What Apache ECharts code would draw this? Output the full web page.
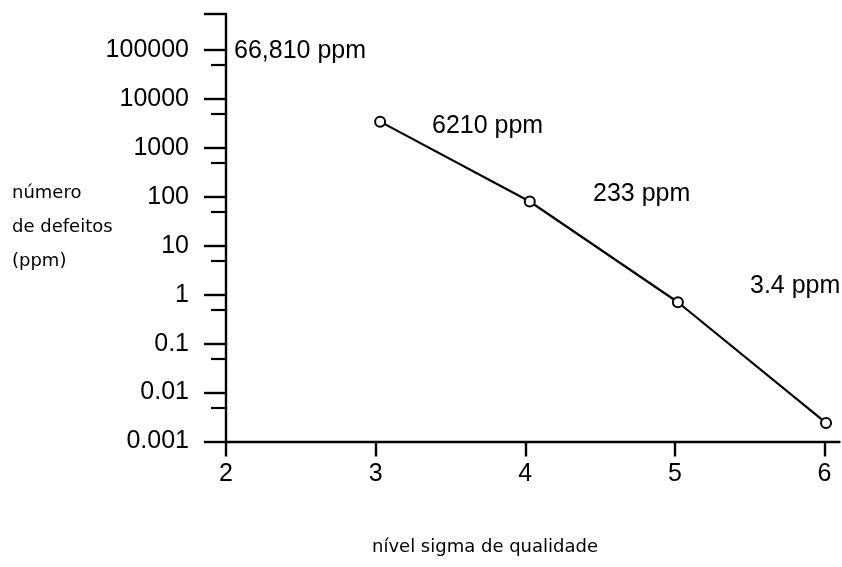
<!DOCTYPE html>
<html>
<head>
<meta charset="utf-8">
<script src="https://cdn.jsdelivr.net/npm/echarts@6/dist/echarts.min.js"></script>
<style>
html,body{margin:0;padding:0;background:#fff;}
#c{width:842px;height:567px;}
</style>
</head>
<body>
<div id="c"></div>
<script>
// ---- data ----
const sigmaLevels = [3.03, 4.03, 5.02, 6.01];
const defectsPpm = [3430, 80, 0.70, 0.0024];
const xTickValues = [2, 3, 4, 5, 6];
const xTickLabels = ['2', '3', '4', '5', '6'];
const yTickValues = [0.001, 0.01, 0.1, 1, 10, 100, 1000, 10000, 100000];
const yTickLabels = ['0.001', '0.01', '0.1', '1', '10', '100', '1000', '10000', '100000'];
const yMinorTickValues = [0.005, 0.05, 0.5, 5, 50, 500, 5000, 50000];
const annotationTexts = ['66,810 ppm', '6210 ppm', '233 ppm', '3.4 ppm'];
const yAxisTitle = 'número\nde defeitos\n(ppm)';
const xAxisTitle = 'nível sigma de qualidade';

const yMin = 0.001, yMax = 543000;
const xMin = 2, xMax = 6.1;

const tickFont = 'Liberation Sans';
const ink = '#000';

function yLabel(v) {
  const i = yTickValues.findIndex(t => Math.abs(Math.log10(t) - Math.log10(v)) < 1e-6);
  return i >= 0 ? yTickLabels[i] : '';
}
function xLabel(v) {
  const i = xTickValues.findIndex(t => Math.abs(t - v) < 1e-6);
  return i >= 0 ? xTickLabels[i] : '';
}

const chart = echarts.init(document.getElementById('c'), null, {renderer: 'canvas'});
const option = {
  animation: false,
  backgroundColor: '#fff',
  grid: {left: 226, right: 2.5, top: 14, bottom: 125.5},
  xAxis: {
    type: 'value', min: xMin, max: xMax, interval: 1,
    axisLine: {show: true, lineStyle: {color: ink, width: 2.4}},
    axisTick: {show: true, length: 15, lineStyle: {color: ink, width: 2.4}, customValues: xTickValues},
    axisLabel: {show: true, customValues: xTickValues, formatter: xLabel, margin: 20,
      fontFamily: tickFont, fontSize: 25, color: ink},
    splitLine: {show: false}
  },
  yAxis: [{
    type: 'log', min: yMin, max: yMax, logBase: 10,
    axisLine: {show: true, lineStyle: {color: ink, width: 2.4}},
    axisTick: {show: true, length: 22, lineStyle: {color: ink, width: 2.4},
      customValues: yTickValues.concat([yMax])},
    axisLabel: {show: true, customValues: yTickValues, formatter: yLabel, margin: 37,
      fontFamily: tickFont, fontSize: 25, color: ink},
    splitLine: {show: false}
  }, {
    type: 'log', min: yMin, max: yMax, logBase: 10, position: 'left',
    axisLine: {show: false},
    axisTick: {show: true, length: 15, lineStyle: {color: ink, width: 2.2}, customValues: yMinorTickValues},
    axisLabel: {show: false},
    splitLine: {show: false}
  }],
  series: [{
    type: 'line',
    yAxisIndex: 0,
    data: sigmaLevels.map((x, i) => [x, defectsPpm[i]]),
    symbol: 'emptyCircle',
    symbolSize: 10,
    lineStyle: {color: ink, width: 2.2},
    itemStyle: {color: ink, borderColor: ink, borderWidth: 1.8},
    z: 3
  }],
  graphic: [
    {type: 'text', left: 234, top: 39, style: {text: annotationTexts[0], font: '25px "Liberation Sans"', fill: ink}},
    {type: 'text', left: 432, top: 114, style: {text: annotationTexts[1], font: '25px "Liberation Sans"', fill: ink}},
    {type: 'text', left: 593, top: 182, style: {text: annotationTexts[2], font: '25px "Liberation Sans"', fill: ink}},
    {type: 'text', left: 750, top: 274, style: {text: annotationTexts[3], font: '25px "Liberation Sans"', fill: ink}},
    {type: 'text', left: 12, top: 176, style: {text: yAxisTitle, font: '18px "DejaVu Sans"', fill: ink, lineHeight: 34}},
    {type: 'text', left: 372, top: 538, style: {text: xAxisTitle, font: '18px "DejaVu Sans"', fill: ink}}
  ]
};
chart.setOption(option);
</script>
</body>
</html>
